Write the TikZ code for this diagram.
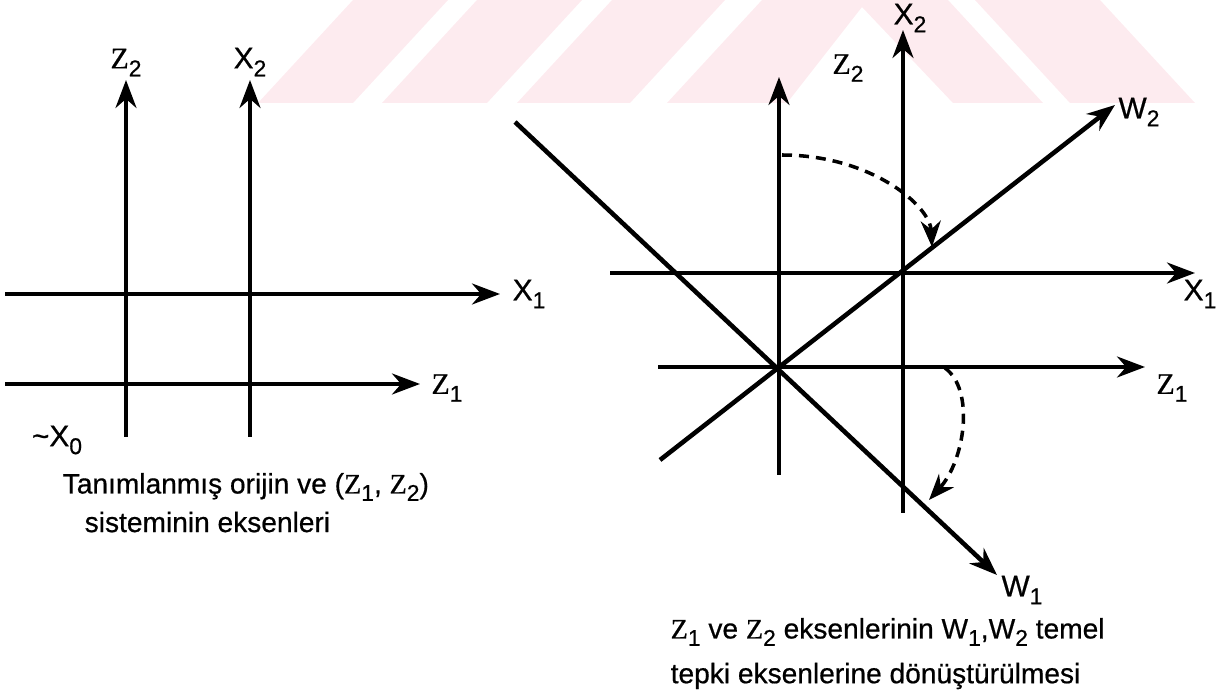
\documentclass[tikz,border=0pt]{standalone}
\usepackage{fontspec}
\setmainfont{Liberation Sans}[FakeBold=0.6]
\newfontfamily\zfont{Liberation Serif}[FakeBold=0.6]
\usetikzlibrary{arrows.meta, positioning, calc}
\definecolor{wmpink}{RGB}{253,235,239}
\newcommand{\ix}[1]{\raisebox{-0.5ex}{\fontsize{6.5}{7}\selectfont #1}}
\newcommand{\Zl}[1]{{\zfont Z}\ix{#1}}
\newcommand{\Xl}[1]{X\ix{#1}}
\newcommand{\Wl}[1]{W\ix{#1}}
\tikzset{
    axis/.style={-{Stealth[length=2.8mm, width=2.1mm]}, line width=1pt},
    wline/.style={line width=1.3pt},
    rotarrow/.style={-{Stealth[length=2.6mm, width=2mm]}, dash pattern=on 1mm off 0.7mm, line width=1pt},
    lbl/.style={inner sep=0pt, font=\fontsize{8.5}{10}\selectfont},
    caption/.style={inner sep=0pt, anchor=west, font=\fontsize{8}{10}\selectfont},
    wmark/.style={fill=wmpink, draw=none}
}
\begin{document}
\begin{tikzpicture}[x=0.01cm, y=-0.01cm]
    \useasboundingbox (0,0) rectangle (1217,691);
    \fill[wmark] (258,103) -- (353,103) -- (448,0) -- (353,0) -- cycle;
    \fill[wmark] (382,103) -- (487,103) -- (582,0) -- (477,0) -- cycle;
    \fill[wmark] (517,103) -- (630,103) -- (725,0) -- (612,0) -- cycle;
    \fill[wmark] (667,103) -- (787,103) -- (862,7) -- (953,103) -- (1043,103) -- (948,0) -- (762,0) -- cycle;
    \fill[wmark] (1070,103) -- (1195,103) -- (1100,0) -- (975,0) -- cycle;

    \coordinate (lZ2t) at (126,80);  \coordinate (lZ2b) at (126,437);
    \coordinate (lX2t) at (250,80);  \coordinate (lX2b) at (250,437);
    \coordinate (lX1a) at (5,294);   \coordinate (lX1t) at (500,294);
    \coordinate (lZ1a) at (5,384);   \coordinate (lZ1t) at (420,384);

    \draw[axis] (lZ2b) -- (lZ2t);
    \draw[axis] (lX2b) -- (lX2t);
    \draw[axis] (lX1a) -- (lX1t);
    \draw[axis] (lZ1a) -- (lZ1t);

    \node[lbl, above=0.3mm of lZ2t] (lZ2) {\Zl{2}};
    \node[lbl, above=0.3mm of lX2t] (lX2) {\Xl{2}};
    \node[lbl, right=1.2mm of lX1t] (lX1) {\Xl{1}};
    \node[lbl] (lZ1) at (447,388) {\Zl{1}};
    \node[lbl] (lX0) at (57,440) {\textasciitilde\Xl{0}};

    \node[caption] (capl1) at (62,487) {Tanımlanmış orijin ve (\Zl{1}, \Zl{2})};
    \node[caption] (capl2) at (84,522) {sisteminin eksenleri};

    \coordinate (o) at (779,367);
    \coordinate (rZ2t) at (779,77);   \coordinate (rZ2b) at (779,475);
    \coordinate (rX2t) at (903,30);   \coordinate (rX2b) at (903,513);
    \coordinate (rX1a) at (610,273);  \coordinate (rX1t) at (1195,273);
    \coordinate (rZ1a) at (658,367);  \coordinate (rZ1t) at (1145,367);
    \coordinate (w1a) at (515,122);   \coordinate (w1t) at (997,575);
    \coordinate (w2a) at (660,460);   \coordinate (w2t) at (1115,105);

    \draw[axis] (rZ2b) -- (rZ2t);
    \draw[axis] (rX2b) -- (rX2t);
    \draw[axis] (rX1a) -- (rX1t);
    \draw[axis] (rZ1a) -- (rZ1t);
    \draw[wline, -{Stealth[length=2.8mm, width=2.1mm]}] (w1a) -- (w1t);
    \draw[wline, -{Stealth[length=2.8mm, width=2.1mm]}] (w2a) -- (w2t);

    \node[lbl] (rZ2) at (848,68) {\Zl{2}};
    \node[lbl] (rX2) at (910,18) {\Xl{2}};
    \node[lbl] (rX1) at (1200,294) {\Xl{1}};
    \node[lbl] (rZ1) at (1172,388) {\Zl{1}};
    \node[lbl] (rW1) at (1022,590) {\Wl{1}};
    \node[lbl] (rW2) at (1139,112) {\Wl{2}};

    \coordinate (r1s) at (782,155);  \coordinate (r1e) at (932,247);
    \coordinate (r2s) at (945,368);  \coordinate (r2e) at (929,500);
    \draw[rotarrow] (r1s) .. controls (870,155) and (930,205) .. (r1e);
    \draw[rotarrow] (r2s) .. controls (975,390) and (965,460) .. (r2e);

    \node[caption] (capr1) at (670,632) {\Zl{1} ve \Zl{2} eksenlerinin \Wl{1},\Wl{2} temel};
    \node[caption] (capr2) at (670,676) {tepki eksenlerine dönüştürülmesi};
\end{tikzpicture}
\end{document}
